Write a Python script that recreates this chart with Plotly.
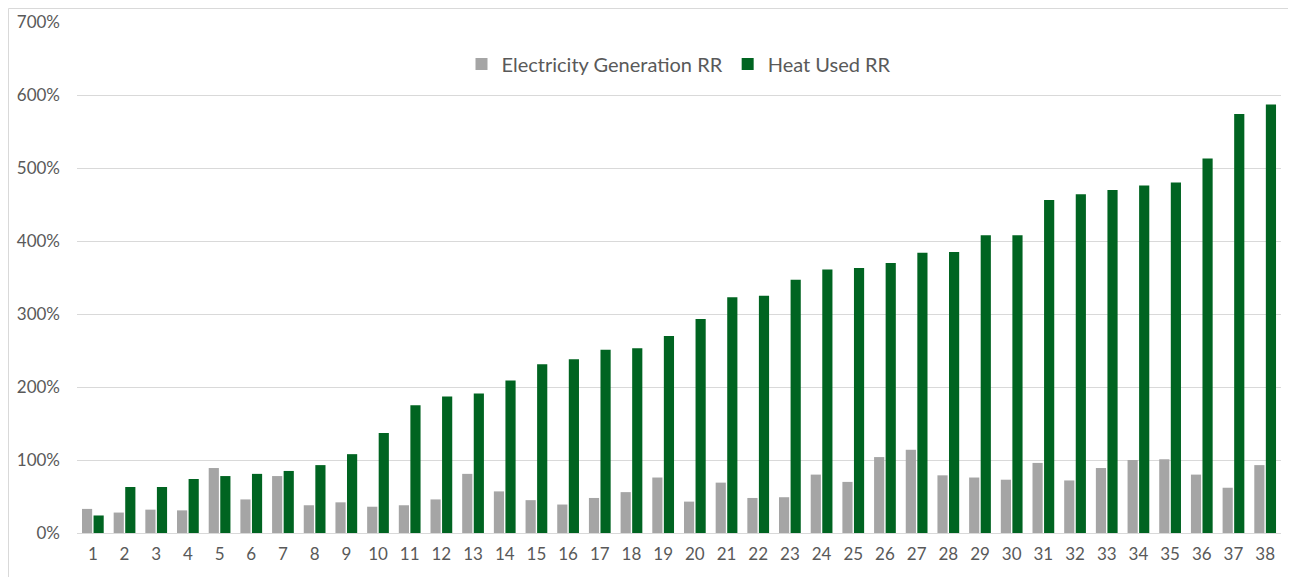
import plotly.graph_objects as go

categories = [str(i) for i in range(1, 39)]

electricity_rr = [33, 28, 32, 31, 89, 46, 78, 38, 42, 36, 38, 46, 81, 57, 45, 39, 48, 56, 76, 43,
                  69, 48, 49, 80, 70, 104, 114, 79, 76, 73, 96, 72, 89, 100, 101, 80, 62, 93]
heat_used_rr = [24, 63, 63, 74, 78, 81, 85, 93, 108, 137, 175, 187, 191, 209, 231, 238, 251, 253, 270, 293,
                323, 325, 347, 361, 363, 370, 384, 385, 408, 408, 456, 464, 470, 476, 480, 513, 574, 587]

tick_vals = [0, 100, 200, 300, 400, 500, 600, 700]
tick_text = ["0%", "100%", "200%", "300%", "400%", "500%", "600%", "700%"]

font_family = "Lato, 'Open Sans', sans-serif"
text_color = "#595959"

# page body has an 8px margin; figure placed so plot area spans x 77..1281, y 22..533 in the window
W, H = 1288, 569
L, R, T, B = 69, 15, 14, 44
PW = W - L - R
PH = H - T - B

fig = go.Figure()
fig.add_trace(go.Bar(
    x=categories, y=electricity_rr, name="Electricity Generation RR",
    marker=dict(color="#A5A5A5", line=dict(width=0)),
))
fig.add_trace(go.Bar(
    x=categories, y=heat_used_rr, name="Heat Used RR",
    marker=dict(color="#006421", line=dict(width=0)),
))

fig.update_layout(
    width=W, height=H,
    margin=dict(l=L, r=R, t=T, b=B, autoexpand=False),
    paper_bgcolor="white", plot_bgcolor="white",
    barmode="group", bargap=0.27, bargroupgap=0.12,
    font=dict(family=font_family, size=16, color=text_color),
    showlegend=True,
    legend=dict(
        orientation="h", x=0.5, xanchor="center", y=(533 - 64) / 511, yanchor="middle",
        font=dict(size=20, color=text_color), bgcolor="rgba(0,0,0,0)",
        itemwidth=30,
    ),
    xaxis=dict(
        type="category", showgrid=False, showline=True, linecolor="#D9D9D9", linewidth=1,
        ticks="", tickfont=dict(size=17, color=text_color), ticklabelstandoff=6,
    ),
    yaxis=dict(
        range=[0, 700], tickvals=tick_vals, ticktext=tick_text,
        showgrid=True, gridcolor="#D9D9D9", gridwidth=1,
        zeroline=True, zerolinecolor="#D9D9D9", zerolinewidth=1,
        showline=False, ticks="", tickfont=dict(size=17, color=text_color),
        ticklabelstandoff=16,
    ),
    shapes=[dict(
        type="rect", xref="paper", yref="paper",
        x0=(0.5 - L) / PW, x1=(W - 1.5 - L) / PW,
        y0=-(B + 20) / PH, y1=1 + (T - 0.5) / PH,
        line=dict(color="#D9D9D9", width=1), fillcolor="rgba(0,0,0,0)", layer="below",
    )],
)

fig.write_html("out.html")
